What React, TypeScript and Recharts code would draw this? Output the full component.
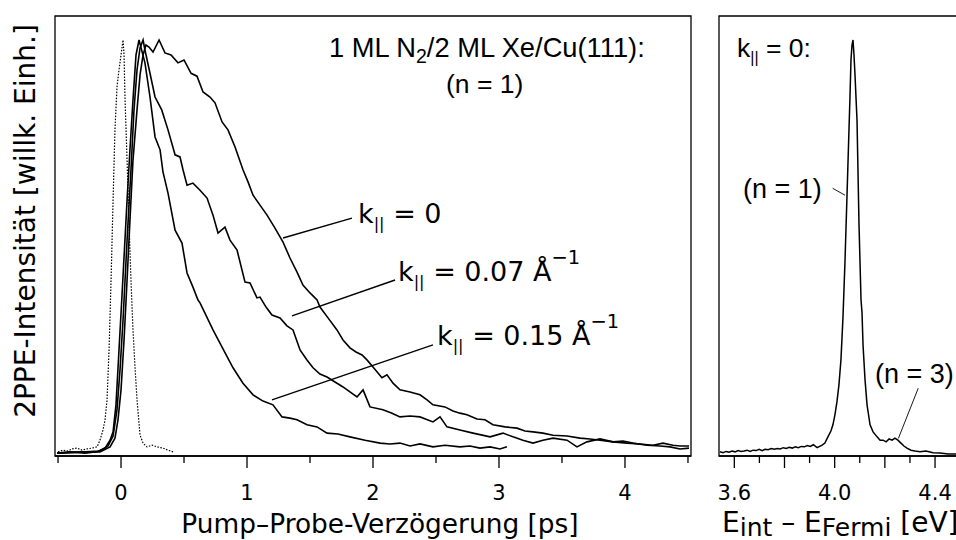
import React from 'react';
import { LineChart, Line, XAxis, YAxis, ReferenceLine, ReferenceArea } from 'recharts';

// Pump-probe traces: [delay in ps, normalized 2PPE signal]
const crossCorrelation: [number, number][] = [
  [-0.5, 0.01], [-0.46, 0.014], [-0.42, 0.012], [-0.389, 0.017], [-0.349, 0.019], [-0.31, 0.014],
  [-0.27, 0.017], [-0.23, 0.019], [-0.19, 0.022], [-0.167, 0.038], [-0.143, 0.0625], [-0.127, 0.0865],
  [-0.111, 0.135], [-0.095, 0.255], [-0.079, 0.423], [-0.063, 0.615], [-0.048, 0.784], [-0.032, 0.887],
  [-0.016, 0.928], [0, 0.964], [0.016, 1.0], [0.024, 0.964], [0.032, 0.856], [0.048, 0.711],
  [0.063, 0.567], [0.079, 0.423], [0.095, 0.303], [0.111, 0.214], [0.127, 0.135], [0.151, 0.05],
  [0.175, 0.031], [0.206, 0.022], [0.246, 0.026], [0.286, 0.022], [0.333, 0.019], [0.373, 0.014], [0.413, 0.01],
];

const kPar0: [number, number][] = [
  [-0.508, 0.007], [-0.286, 0.01], [-0.167, 0.01], [-0.087, 0.022], [-0.048, 0.043], [-0.024, 0.087],
  [0, 0.159], [0.024, 0.279], [0.048, 0.423], [0.071, 0.567], [0.095, 0.711], [0.127, 0.832],
  [0.151, 0.916], [0.175, 0.964], [0.198, 0.988], [0.222, 0.983], [0.254, 0.971], [0.302, 1.0],
  [0.349, 0.969], [0.397, 0.964], [0.452, 0.945], [0.5, 0.952], [0.556, 0.92], [0.603, 0.913],
  [0.651, 0.875], [0.706, 0.863], [0.746, 0.849], [0.802, 0.803], [0.849, 0.784], [0.905, 0.743],
  [0.968, 0.688], [1.008, 0.659], [1.048, 0.627], [1.103, 0.603], [1.159, 0.579], [1.222, 0.548],
  [1.286, 0.514], [1.341, 0.476], [1.397, 0.442], [1.444, 0.411], [1.5, 0.392], [1.556, 0.375],
  [1.579, 0.358], [1.643, 0.332], [1.714, 0.303], [1.762, 0.279], [1.817, 0.26], [1.865, 0.25],
  [1.913, 0.243], [1.952, 0.231], [2.0, 0.214], [2.071, 0.188], [2.111, 0.195], [2.159, 0.175],
  [2.214, 0.159], [2.294, 0.154], [2.373, 0.147], [2.429, 0.135], [2.476, 0.123], [2.571, 0.118],
  [2.635, 0.108], [2.69, 0.103], [2.746, 0.099], [2.825, 0.089], [2.889, 0.087], [2.952, 0.075],
  [3.048, 0.07], [3.143, 0.067], [3.206, 0.06], [3.27, 0.058], [3.349, 0.055], [3.429, 0.05],
  [3.54, 0.048], [3.643, 0.043], [3.722, 0.041], [3.802, 0.038], [3.905, 0.034], [4.016, 0.031],
  [4.119, 0.029], [4.222, 0.026], [4.302, 0.031], [4.381, 0.026], [4.437, 0.024], [4.508, 0.024],
];

const kPar007: [number, number][] = [
  [-0.508, 0.007], [-0.286, 0.01], [-0.167, 0.012], [-0.103, 0.024], [-0.063, 0.048], [-0.032, 0.111],
  [-0.008, 0.207], [0.016, 0.327], [0.048, 0.519], [0.079, 0.688], [0.103, 0.832], [0.127, 0.928],
  [0.151, 0.981], [0.175, 1.0], [0.19, 0.976], [0.23, 0.92], [0.27, 0.863], [0.323, 0.832],
  [0.373, 0.784], [0.429, 0.724], [0.468, 0.719], [0.492, 0.688], [0.524, 0.651], [0.571, 0.656],
  [0.627, 0.639], [0.683, 0.62], [0.73, 0.579], [0.77, 0.536], [0.825, 0.55], [0.865, 0.519],
  [0.921, 0.495], [0.984, 0.418], [1.024, 0.416], [1.079, 0.38], [1.103, 0.382], [1.151, 0.358],
  [1.198, 0.339], [1.262, 0.332], [1.317, 0.313], [1.365, 0.303], [1.421, 0.255], [1.476, 0.231],
  [1.524, 0.212], [1.579, 0.197], [1.635, 0.19], [1.698, 0.178], [1.762, 0.166], [1.817, 0.154],
  [1.873, 0.142], [1.921, 0.159], [1.976, 0.118], [2.079, 0.111], [2.151, 0.103], [2.214, 0.094],
  [2.294, 0.096], [2.373, 0.094], [2.476, 0.082], [2.532, 0.094], [2.587, 0.07], [2.69, 0.0625],
  [2.794, 0.055], [2.929, 0.046], [3.032, 0.055], [3.111, 0.046], [3.19, 0.038], [3.27, 0.031],
  [3.349, 0.038], [3.429, 0.043], [3.54, 0.038], [3.619, 0.022], [3.698, 0.034], [3.802, 0.041],
  [3.905, 0.034], [3.984, 0.036], [4.063, 0.031], [4.175, 0.026], [4.278, 0.024], [4.357, 0.022],
  [4.437, 0.017], [4.508, 0.019],
];

const kPar015: [number, number][] = [
  [-0.508, 0.007], [-0.405, 0.01], [-0.286, 0.007], [-0.19, 0.01], [-0.127, 0.019], [-0.087, 0.038],
  [-0.063, 0.058], [-0.04, 0.123], [-0.016, 0.255], [0.008, 0.387], [0.048, 0.615], [0.071, 0.736],
  [0.095, 0.856], [0.119, 0.964], [0.143, 1.0], [0.19, 0.945], [0.23, 0.863], [0.27, 0.767],
  [0.31, 0.736], [0.333, 0.683], [0.373, 0.632], [0.429, 0.543], [0.484, 0.512], [0.524, 0.44],
  [0.571, 0.406], [0.611, 0.375], [0.627, 0.368], [0.73, 0.303], [0.802, 0.262], [0.889, 0.212],
  [0.968, 0.175], [1.048, 0.147], [1.127, 0.132], [1.206, 0.123], [1.278, 0.094], [1.341, 0.091],
  [1.397, 0.087], [1.476, 0.075], [1.556, 0.07], [1.635, 0.055], [1.722, 0.053], [1.817, 0.046],
  [1.937, 0.038], [2.056, 0.031], [2.135, 0.029], [2.214, 0.031], [2.294, 0.024], [2.373, 0.029],
  [2.476, 0.022], [2.571, 0.026], [2.69, 0.022], [2.77, 0.024], [2.849, 0.019], [2.929, 0.022],
  [3.008, 0.017], [3.063, 0.022],
];

// Energy spectrum at k|| = 0: [E_int - E_Fermi in eV, intensity]
const spectrumK0: [number, number][] = [
  [3.543, 0.01], [3.555, 0.008], [3.567, 0.011], [3.579, 0.009], [3.591, 0.012], [3.603, 0.01],
  [3.615, 0.013], [3.627, 0.011], [3.639, 0.012], [3.651, 0.014], [3.663, 0.011], [3.675, 0.014],
  [3.687, 0.013], [3.699, 0.016], [3.711, 0.013], [3.723, 0.016], [3.735, 0.015], [3.747, 0.018],
  [3.759, 0.016], [3.771, 0.018], [3.783, 0.017], [3.795, 0.02], [3.807, 0.018], [3.819, 0.021],
  [3.831, 0.019], [3.843, 0.022], [3.855, 0.02], [3.867, 0.023], [3.879, 0.022], [3.891, 0.025],
  [3.903, 0.023], [3.915, 0.027], [3.93, 0.02], [3.95, 0.026], [3.961, 0.031], [3.973, 0.046],
  [3.985, 0.06], [3.993, 0.075], [4.001, 0.099], [4.009, 0.13], [4.017, 0.171], [4.025, 0.231],
  [4.033, 0.332], [4.041, 0.466], [4.049, 0.623], [4.057, 0.784], [4.061, 0.863], [4.065, 0.952],
  [4.069, 0.988], [4.073, 1.0], [4.077, 0.964], [4.081, 0.916], [4.089, 0.808], [4.097, 0.555],
  [4.105, 0.375], [4.109, 0.344], [4.113, 0.267], [4.121, 0.183], [4.129, 0.123], [4.141, 0.075],
  [4.153, 0.058], [4.169, 0.046], [4.181, 0.038], [4.193, 0.038], [4.205, 0.034], [4.217, 0.041],
  [4.229, 0.038], [4.24, 0.043], [4.252, 0.038], [4.264, 0.031], [4.276, 0.024], [4.288, 0.019],
  [4.304, 0.014], [4.32, 0.012], [4.34, 0.01], [4.364, 0.012], [4.392, 0.008], [4.42, 0.007],
  [4.452, 0.005], [4.484, 0.005], [4.52, 0.002], [4.6, 0.002],
];

const delayTicks = [-0.5, 0, 0.5, 1, 1.5, 2, 2.5, 3, 3.5, 4, 4.5];
const energyTicks = [3.6, 3.7, 3.8, 3.9, 4.0, 4.1, 4.2, 4.3, 4.4, 4.5, 4.6];
const energyLabels = ['3.6', '4.0', '4.4'];

const delayDomain = [-0.524, 4.524];
const energyDomain = [3.539, 4.619];
const signalDomain = [0, 1.0577];

const toPoints = (arr: [number, number][]) => arr.map(([x, y]) => ({ x, y }));

const GOTHIC = '"DejaVu Sans", sans-serif';
const HELV = '"Liberation Sans", Arial, sans-serif';

const DelayTick = (props: any) => {
  const { x, y, payload } = props;
  const major = Number.isInteger(payload.value);
  return (
    <g>
      <line x1={x} x2={x} y1={y} y2={y + (major ? 12 : 7)} stroke="#000" strokeWidth={1.3} />
      {major && (
        <text x={x} y={y + 44} textAnchor="middle" fontSize={21} fontFamily={GOTHIC} fill="#000">
          {payload.value}
        </text>
      )}
    </g>
  );
};

const EnergyTick = (props: any) => {
  const { x, y, payload } = props;
  const label = payload.value.toFixed(1);
  const major = Math.round(payload.value * 10) % 2 === 0;
  return (
    <g>
      <line x1={x} x2={x} y1={y} y2={y + (major ? 12 : 7)} stroke="#000" strokeWidth={1.3} />
      {energyLabels.includes(label) && (
        <text x={x} y={y + 44} textAnchor="middle" fontSize={21} fontFamily={GOTHIC} fill="#000">
          {label}
        </text>
      )}
    </g>
  );
};

const K = ({ x, y, size, rest, sup }: { x: number; y: number; size: number; rest: string; sup?: string }) => (
  <text x={x} y={y} fontSize={size} fontFamily={GOTHIC} fill="#000">
    k
    <tspan fontSize={size * 0.6} dy={size * 0.22}>||</tspan>
    <tspan dy={-size * 0.22}>{rest}</tspan>
    {sup && <tspan fontSize={size * 0.72} dy={-size * 0.62}>{sup}</tspan>}
  </text>
);

const axisStroke = { stroke: '#000', strokeWidth: 1.3 };

export default function App() {
  return (
    <div style={{ position: 'fixed', left: 0, top: 0, width: 956, height: 540, overflow: 'hidden', background: '#fff' }}>
      <div style={{ position: 'absolute', left: 0, top: 0 }}>
        <LineChart width={700} height={540} margin={{ top: 16, right: 9, bottom: 0, left: 55 }}>
          <XAxis
            dataKey="x"
            type="number"
            domain={delayDomain}
            ticks={delayTicks}
            interval={0}
            allowDataOverflow
            height={84}
            tickSize={0}
            tickMargin={0}
            tickLine={false}
            axisLine={axisStroke}
            tick={<DelayTick />}
          />
          <YAxis hide domain={signalDomain} allowDataOverflow />
          <ReferenceArea x1={delayDomain[0]} x2={delayDomain[1]} y1={signalDomain[0]} y2={signalDomain[1]} fill="none" stroke="#000" strokeWidth={1.3} ifOverflow="visible" />
          <Line data={toPoints(crossCorrelation)} dataKey="y" type="linear" stroke="#000" strokeWidth={1.2} strokeDasharray="1.5 1.5" dot={false} isAnimationActive={false} />
          <Line data={toPoints(kPar015)} dataKey="y" type="linear" stroke="#000" strokeWidth={1.6} dot={false} isAnimationActive={false} />
          <Line data={toPoints(kPar007)} dataKey="y" type="linear" stroke="#000" strokeWidth={1.6} dot={false} isAnimationActive={false} />
          <Line data={toPoints(kPar0)} dataKey="y" type="linear" stroke="#000" strokeWidth={1.6} dot={false} isAnimationActive={false} />
          <ReferenceLine segment={[{ x: 1.286, y: 0.524 }, { x: 1.833, y: 0.572 }]} stroke="#000" strokeWidth={1.4} ifOverflow="visible" />
          <ReferenceLine segment={[{ x: 1.357, y: 0.337 }, { x: 2.175, y: 0.423 }]} stroke="#000" strokeWidth={1.4} ifOverflow="visible" />
          <ReferenceLine segment={[{ x: 1.198, y: 0.135 }, { x: 2.476, y: 0.267 }]} stroke="#000" strokeWidth={1.4} ifOverflow="visible" />
        </LineChart>
      </div>

      <div style={{ position: 'absolute', left: 700, top: 0 }}>
        <LineChart width={300} height={540} margin={{ top: 16, right: 10, bottom: 0, left: 19 }}>
          <XAxis
            dataKey="x"
            type="number"
            domain={energyDomain}
            ticks={energyTicks}
            interval={0}
            allowDataOverflow
            height={84}
            tickSize={0}
            tickMargin={0}
            tickLine={false}
            axisLine={axisStroke}
            tick={<EnergyTick />}
          />
          <YAxis hide domain={signalDomain} allowDataOverflow />
          <ReferenceArea x1={energyDomain[0]} x2={energyDomain[1]} y1={signalDomain[0]} y2={signalDomain[1]} fill="none" stroke="#000" strokeWidth={1.3} ifOverflow="visible" />
          <Line data={toPoints(spectrumK0)} dataKey="y" type="linear" stroke="#000" strokeWidth={1.5} dot={false} isAnimationActive={false} />
          <ReferenceLine segment={[{ x: 3.992, y: 0.6435 }, { x: 4.041, y: 0.627 }]} stroke="#000" strokeWidth={0.9} ifOverflow="visible" />
          <ReferenceLine segment={[{ x: 4.333, y: 0.163 }, { x: 4.254, y: 0.0425 }]} stroke="#000" strokeWidth={0.9} ifOverflow="visible" />
        </LineChart>
      </div>

      <svg width={956} height={540} style={{ position: 'absolute', left: 0, top: 0, pointerEvents: 'none' }}>
        <text transform="translate(35,221) rotate(-90)" textAnchor="middle" fontSize={28} fontFamily={GOTHIC} fill="#000">
          2PPE-Intensität [willk. Einh.]
        </text>
        <text x={380} y={533} textAnchor="middle" fontSize={26.4} fontFamily={GOTHIC} fill="#000">
          Pump–Probe-Verzögerung [ps]
        </text>
        <text x={722} y={532} fontSize={28} fontFamily={GOTHIC} fill="#000">
          E<tspan fontSize={25} dy={4}>int</tspan>
          <tspan dy={-4}> – E</tspan>
          <tspan fontSize={25} dy={4}>Fermi</tspan>
          <tspan dy={-4}> [eV]</tspan>
        </text>

        <text x={329} y={57} fontSize={27.3} fontFamily={HELV} fill="#000">
          1 ML N<tspan fontSize={19.5} dy={6}>2</tspan>
          <tspan dy={-6}>/2 ML Xe/Cu(111):</tspan>
        </text>
        <text x={446} y={93} fontSize={26.5} fontFamily={HELV} fill="#000">(n = 1)</text>

        <K x={358} y={223} size={27} rest=" = 0" />
        <K x={398} y={281} size={27} rest=" = 0.07 Å" sup="−1" />
        <K x={437} y={345} size={27} rest=" = 0.15 Å" sup="−1" />

        <text x={737} y={57} fontSize={26.5} fontFamily={HELV} fill="#000">
          k<tspan fontSize={16} dy={6}>||</tspan>
          <tspan dy={-6}> = 0:</tspan>
        </text>
        <text x={743} y={198} fontSize={27} fontFamily={HELV} fill="#000">(n = 1)</text>
        <text x={875} y={383} fontSize={27} fontFamily={HELV} fill="#000">(n = 3)</text>
      </svg>
    </div>
  );
}
